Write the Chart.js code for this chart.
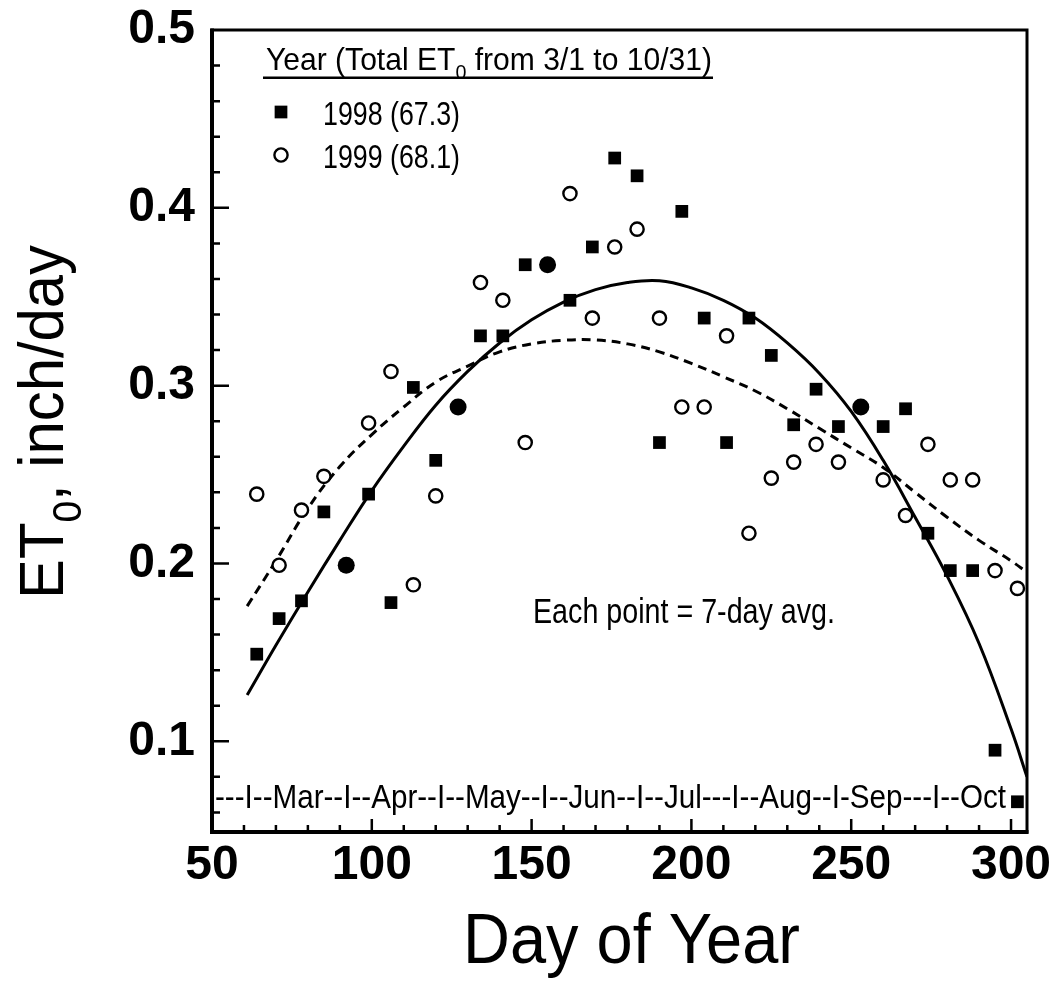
<!DOCTYPE html>
<html>
<head>
<meta charset="utf-8">
<title>Daily ET0, 1998 and 1999</title>
<script src="https://cdn.jsdelivr.net/npm/chart.js@4.4.0/dist/chart.umd.min.js"></script>
<style>
  html, body { margin: 0; padding: 0; background: #fff; }
</style>
</head>
<body>
<canvas id="etChart" width="1057" height="1005"></canvas>
<script>
// ---------------------------
// Data (day of year, ET0 in inch/day)
// ---------------------------
// centre day of each 7-day average
const weekDays = [64, 71, 78, 85, 99, 106, 113, 120, 134, 141, 148, 162, 169, 176, 183, 190,
                  197, 204, 211, 218, 225, 232, 239, 246, 260, 267, 274, 281, 288, 295, 302];
const et1998 = [0.149, 0.169, 0.179, 0.229, 0.239, 0.178, 0.299, 0.258, 0.328, 0.328, 0.368,
                0.348, 0.378, 0.428, 0.418, 0.268, 0.398, 0.338, 0.268, 0.338, 0.317, 0.278,
                0.298, 0.277, 0.277, 0.287, 0.217, 0.196, 0.196, 0.095, 0.066];
const et1999 = [0.239, 0.199, 0.230, 0.249, 0.279, 0.308, 0.188, 0.238, 0.358, 0.348, 0.268,
                0.408, 0.338, 0.378, 0.388, 0.338, 0.288, 0.288, 0.328, 0.217, 0.248, 0.257,
                0.267, 0.257, 0.247, 0.227, 0.267, 0.247, 0.247, 0.196, 0.186];
// weeks where both years came out the same
const sameDays = [92, 127, 155, 253];
const sameEt = [0.199, 0.288, 0.368, 0.288];

// fitted seasonal curves
const fitDays = [61, 70, 80, 90, 100, 110, 120, 130, 140, 150, 160, 170, 180,
                 190, 200, 210, 220, 230, 240, 250, 260, 270, 280, 290, 300, 305];
const fit1998 = [0.126, 0.154, 0.184, 0.213, 0.241, 0.266, 0.289, 0.308, 0.324, 0.337, 0.347, 0.354, 0.358,
                 0.359, 0.355, 0.348, 0.338, 0.324, 0.307, 0.2855, 0.258, 0.226, 0.193, 0.155, 0.107, 0.080];
const fit1999 = [0.176, 0.2015, 0.231, 0.2545, 0.2725, 0.288, 0.302, 0.311, 0.319, 0.3235, 0.3255, 0.3257, 0.3235,
                 0.319, 0.3125, 0.305, 0.297, 0.287, 0.276, 0.265, 0.254, 0.240, 0.226, 0.213, 0.2015, 0.195];

const xTickValues = [50, 100, 150, 200, 250, 300];
const yTickValues = [0.1, 0.2, 0.3, 0.4, 0.5];
const monthRow = "---I--Mar--I--Apr--I--May--I--Jun--I--Jul---I--Aug--I-Sep---I--Oct";
const noteText = "Each point = 7-day avg.";

const FONT = "'Liberation Sans', Arial, Helvetica, sans-serif";

function pts(xs, ys) {
  return xs.map((d, i) => ({ x: d, y: ys[i] }));
}

// draws text squeezed to a given width; parts are [text, isSubscript]
function narrowText(ctx, parts, x, y, size, width) {
  const subSize = Math.round(size * 0.65);
  let natural = 0;
  const widths = parts.map(([t, sub]) => {
    ctx.font = (sub ? subSize : size) + "px " + FONT;
    const w = ctx.measureText(t).width;
    natural += w;
    return w;
  });
  ctx.save();
  ctx.translate(x, y);
  ctx.scale(width / natural, 1);
  ctx.textAlign = "left";
  ctx.textBaseline = "alphabetic";
  let cx = 0;
  parts.forEach(([t, sub], i) => {
    ctx.font = (sub ? subSize : size) + "px " + FONT;
    ctx.fillText(t, cx, sub ? size * 0.28 : 0);
    cx += widths[i];
  });
  ctx.restore();
}

// ---------------------------
// Frame, inward ticks, legend and labels
// ---------------------------
const decorations = {
  id: "decorations",
  beforeDatasetsDraw(chart) {
    const { ctx, chartArea: a, scales: { x, y } } = chart;
    ctx.save();
    ctx.fillStyle = "#000";
    ctx.strokeStyle = "#000";

    ctx.lineWidth = 2.5;
    ctx.beginPath();
    for (let k = 3; k <= 24; k++) {
      const py = y.getPixelForValue(k / 50);
      ctx.moveTo(a.left, py);
      ctx.lineTo(a.left + (k % 5 === 0 ? 17 : 8), py);
    }
    for (let d = 60; d <= 300; d += 10) {
      const px = x.getPixelForValue(d);
      ctx.moveTo(px, a.bottom);
      ctx.lineTo(px, a.bottom - (d % 50 === 0 ? 13 : 7));
    }
    ctx.stroke();

    ctx.lineWidth = 3;
    ctx.strokeRect(a.left, a.top, a.right - a.left, a.bottom - a.top);
    ctx.lineWidth = 4;
    ctx.beginPath();
    ctx.moveTo(a.left, a.top - 1.5);
    ctx.lineTo(a.left, a.bottom);
    ctx.lineTo(a.right + 1.5, a.bottom);
    ctx.stroke();

    // month strip along the bottom
    narrowText(ctx, [[monthRow, false]], a.left + 3, 808, 34, 791);

    // legend
    narrowText(ctx, [["Year (Total ET", false], ["0", true], [" from 3/1 to 10/31)", false]], 266, 70, 32, 446);
    ctx.fillRect(263, 76.5, 450, 2.5);
    const sets = chart.data.datasets;
    [[0, 112], [1, 155]].forEach(([i, ly]) => {
      const ds = sets[i];
      ctx.fillStyle = ds.backgroundColor;
      ctx.strokeStyle = ds.borderColor;
      ctx.lineWidth = ds.borderWidth;
      Chart.helpers.drawPoint(ctx, { pointStyle: ds.pointStyle, radius: ds.pointRadius, borderWidth: ds.borderWidth, rotation: 0 }, 281, ly);
      ctx.fillStyle = "#000";
      narrowText(ctx, [[ds.label, false]], 323, ly + 12.5, 34, 137);
    });

    narrowText(ctx, [[noteText, false]], 533, 623, 35, 302);
    ctx.restore();
  },
  afterDraw(chart) {
    const { ctx } = chart;
    ctx.save();
    ctx.fillStyle = "#000";
    // y axis title, rotated
    ctx.translate(63, 422);
    ctx.rotate(-Math.PI / 2);
    narrowText(ctx, [["ET", false], ["0", true], [", inch/day", false]], -177, 0, 63, 354);
    ctx.restore();

    ctx.save();
    ctx.fillStyle = "#000";
    narrowText(ctx, [["Day of Year", false]], 463, 963, 70, 337);
    ctx.restore();
  }
};

new Chart(document.getElementById("etChart"), {
  type: "scatter",
  data: {
    datasets: [
      { label: "1998 (67.3)", data: pts(weekDays, et1998), pointStyle: "rect", pointRadius: 9,
        backgroundColor: "#000", borderColor: "#000", borderWidth: 0 },
      { label: "1999 (68.1)", data: pts(weekDays, et1999), pointStyle: "circle", pointRadius: 6.6,
        backgroundColor: "#fff", borderColor: "#000", borderWidth: 2.4 },
      { label: "Both years", data: pts(sameDays, sameEt), pointStyle: "circle", pointRadius: 8.5,
        backgroundColor: "#000", borderColor: "#000", borderWidth: 0 },
      { label: "1998 fit", data: pts(fitDays, fit1998), showLine: true, pointRadius: 0,
        borderColor: "#000", borderWidth: 3, tension: 0.4, fill: false },
      { label: "1999 fit", data: pts(fitDays, fit1999), showLine: true, pointRadius: 0,
        borderColor: "#000", borderWidth: 3, borderDash: [9, 6], tension: 0.4, fill: false }
    ]
  },
  options: {
    responsive: false,
    animation: false,
    layout: { padding: { top: 30, right: 30, left: 0, bottom: 0 } },
    plugins: { legend: { display: false }, tooltip: { enabled: false } },
    scales: {
      x: {
        type: "linear",
        min: 50,
        max: 305,
        afterBuildTicks: s => { s.ticks = xTickValues.map(v => ({ value: v })); },
        afterFit: s => { s.height = 173; s.paddingLeft = 0; s.paddingRight = 0; },
        grid: { display: false, drawTicks: false },
        border: { display: false },
        ticks: { color: "#000", padding: 5, maxRotation: 0, autoSkip: false,
                 font: { family: FONT, size: 48, weight: "bold" } }
      },
      y: {
        type: "linear",
        min: 0.049,
        max: 0.5,
        afterBuildTicks: s => { s.ticks = yTickValues.map(v => ({ value: v })); },
        afterFit: s => { s.width = 212; s.paddingTop = 0; s.paddingBottom = 0; },
        grid: { display: false, drawTicks: false },
        border: { display: false },
        ticks: { color: "#000", padding: 17, callback: v => v.toFixed(1),
                 font: { family: FONT, size: 48, weight: "bold" } }
      }
    }
  },
  plugins: [decorations]
});
</script>
</body>
</html>
